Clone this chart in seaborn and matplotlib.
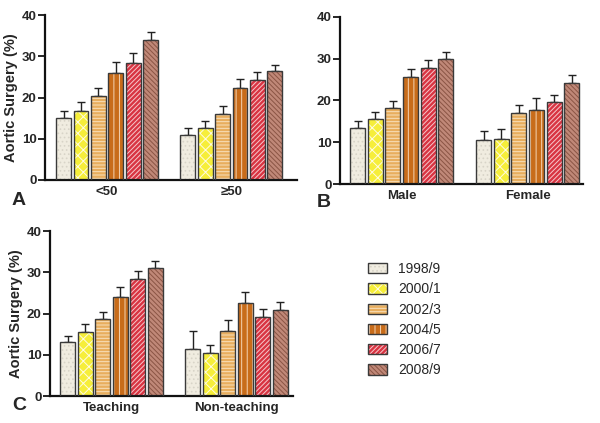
import matplotlib
matplotlib.use("Agg")
import matplotlib.pyplot as plt
from matplotlib.patches import Rectangle, Patch
import seaborn as sns
import pandas as pd

periods = ["1998/9", "2000/1", "2002/3", "2004/5", "2006/7", "2008/9"]

cats_a = ["<50", "≥50"]
vals_a = [[15.0, 16.8, 20.4, 26.0, 28.3, 33.9],
          [10.9, 12.5, 16.1, 22.4, 24.3, 26.4]]
errs_a = [[1.8, 2.2, 1.9, 2.7, 2.5, 1.9],
          [1.8, 1.7, 1.8, 2.1, 1.8, 1.6]]

cats_b = ["Male", "Female"]
vals_b = [[13.5, 15.5, 18.2, 25.7, 27.7, 30.0],
          [10.5, 10.8, 17.1, 17.8, 19.7, 24.3]]
errs_b = [[1.6, 1.8, 1.7, 1.9, 1.9, 1.7],
          [2.2, 2.3, 1.9, 2.9, 1.6, 1.9]]

cats_c = ["Teaching", "Non-teaching"]
vals_c = [[13.1, 15.4, 18.7, 24.0, 28.4, 31.0],
          [11.5, 10.4, 15.8, 22.6, 19.2, 20.8]]
errs_c = [[1.4, 2.1, 1.7, 2.4, 2.0, 1.7],
          [4.2, 2.0, 2.6, 2.6, 2.0, 1.9]]

face_colors = ["#f0ece0", "#f6ee3a", "#e8ae5e", "#c86c1a", "#d83442", "#c08878"]
hatch_colors = ["#d8d4c8", "#fffbe0", "#f8e0bc", "#f4d4b4", "#f6c8cc", "#8a5444"]
hatches = ["....", "xxx", "-----", "|||", "///////", "\\\\\\\\\\\\\\"]
outline = "#3a3a3a"

sns.set_style("white")
plt.rcParams["font.family"] = ["Liberation Sans", "DejaVu Sans"]
plt.rcParams["hatch.linewidth"] = 0.7

fig = plt.figure(figsize=(6.0, 4.23), dpi=100)

def panel(rect, cats, vals, errs, xlim, letter, letter_xy, ylabel):
    ax = fig.add_axes(rect)
    rows = []
    for ci, c in enumerate(cats):
        for pi, p in enumerate(periods):
            rows.append({"cat": c, "period": p, "val": vals[ci][pi], "err": errs[ci][pi]})
    df = pd.DataFrame(rows)
    sns.barplot(data=df, x="cat", y="val", hue="period", order=cats,
                hue_order=periods, palette=face_colors, saturation=1, width=0.84, gap=0.15,
                errorbar=None, legend=False, ax=ax, zorder=2)
    conts = list(ax.containers)
    for pi, cont in enumerate(conts):
        xs, tops, es = [], [], []
        for ci, bar in enumerate(cont.patches):
            bar.set_hatch(hatches[pi])
            bar.set_edgecolor(hatch_colors[pi])
            bar.set_linewidth(0)
            ax.add_patch(Rectangle(bar.get_xy(), bar.get_width(), bar.get_height(),
                                   fill=False, ec=outline, lw=1.0, zorder=3))
            xs.append(bar.get_x() + bar.get_width() / 2)
            tops.append(bar.get_height())
            es.append(errs[ci][pi])
        ax.errorbar(xs, tops, yerr=[[0] * len(es), es], fmt="none",
                    ecolor="#222222", elinewidth=1.0, capsize=3, capthick=1.0, zorder=1)
    ax.set_ylim(0, 40)
    ax.set_yticks([0, 10, 20, 30, 40])
    ax.set_xlim(*xlim)
    ax.set_xlabel("")
    ax.set_ylabel(ylabel, fontsize=10.5, fontweight="bold", labelpad=3)
    for s in ["top", "right"]:
        ax.spines[s].set_visible(False)
    for s in ["left", "bottom"]:
        ax.spines[s].set_linewidth(1.6)
        ax.spines[s].set_color("#111111")
    ax.tick_params(axis="y", which="major", direction="out", length=5, width=1.4,
                   labelsize=9.5, left=True, pad=1)
    ax.tick_params(axis="x", length=0, labelsize=9.5, pad=4)
    for lab in ax.get_xticklabels() + ax.get_yticklabels():
        lab.set_fontweight("bold")
    fig.text(letter_xy[0], letter_xy[1], letter, fontsize=14, fontweight="bold",
             ha="left", va="baseline")
    return ax

panel([0.075, 0.5745, 0.42, 0.39], cats_a, vals_a, errs_a, (-0.5, 1.53), "A",
      (0.02, 0.515), "Aortic Surgery (%)")
panel([0.5667, 0.565, 0.405, 0.395], cats_b, vals_b, errs_b, (-0.49, 1.44), "B",
      (0.528, 0.51), "")
panel([0.0833, 0.0638, 0.405, 0.39], cats_c, vals_c, errs_c, (-0.49, 1.45), "C",
      (0.02, 0.03), "Aortic Surgery (%)")

handles = []
for pi in range(len(periods)):
    h1 = Patch(facecolor=face_colors[pi], edgecolor=hatch_colors[pi], hatch=hatches[pi], lw=0)
    h2 = Patch(facecolor="none", edgecolor=outline, lw=1.0)
    handles.append((h1, h2))
leg = fig.legend(handles, periods, loc="upper left", bbox_to_anchor=(0.602, 0.397),
                 frameon=False, fontsize=10, handlelength=1.35, handleheight=0.75,
                 labelspacing=0.45, handletextpad=0.8, borderpad=0)

fig.savefig("out.png", dpi=100)
